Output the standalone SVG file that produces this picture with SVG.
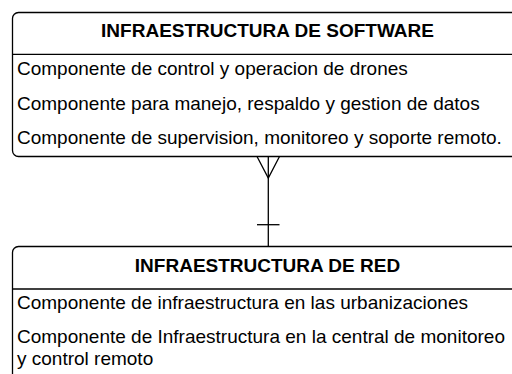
<svg xmlns="http://www.w3.org/2000/svg" width="512" height="374" viewBox="0 0 512 374">
<style>
.box{fill:#fff;stroke:#000;stroke-width:1.3}
.sep{stroke:#000;stroke-width:1.3}
.h{font-family:"Liberation Sans",Arial,sans-serif;font-weight:bold;font-size:19px;text-anchor:middle;fill:#000}
.t{font-family:"Liberation Sans",Arial,sans-serif;font-size:19px;fill:#000}
.c{fill:none;stroke:#000;stroke-width:1.3}
</style>
<rect width="512" height="374" fill="#fff"/>
<g id="connectors">
<path class="c" d="M268.3 156.5 V246.5"/>
<path class="c" d="M257 156.5 L268.3 178 L279.5 156.5"/>
<path class="c" d="M257 224.7 H279.5"/>
</g>
<g id="node-software">
<rect class="box" x="12.5" y="12.5" width="511" height="144" rx="6"/>
<line class="sep" x1="12.5" y1="54.3" x2="523.5" y2="54.3"/>
<text class="h" x="267.5" y="37">INFRAESTRUCTURA DE SOFTWARE</text>
<text class="t" x="17" y="75">Componente de control y operacion de drones</text>
<text class="t" x="17" y="110">Componente para manejo, respaldo y gestion de datos</text>
<text class="t" x="17" y="144">Componente de supervision, monitoreo y soporte remoto.</text>
</g>
<g id="node-red">
<rect class="box" x="12.5" y="246.5" width="511" height="160" rx="6"/>
<line class="sep" x1="12.5" y1="289" x2="523.5" y2="289"/>
<text class="h" x="267.5" y="272">INFRAESTRUCTURA DE RED</text>
<text class="t" x="17" y="309">Componente de infraestructura en las urbanizaciones</text>
<text class="t" x="17" y="343">Componente de Infraestructura en la central de monitoreo</text>
<text class="t" x="17" y="365">y control remoto</text>
</g>
</svg>
